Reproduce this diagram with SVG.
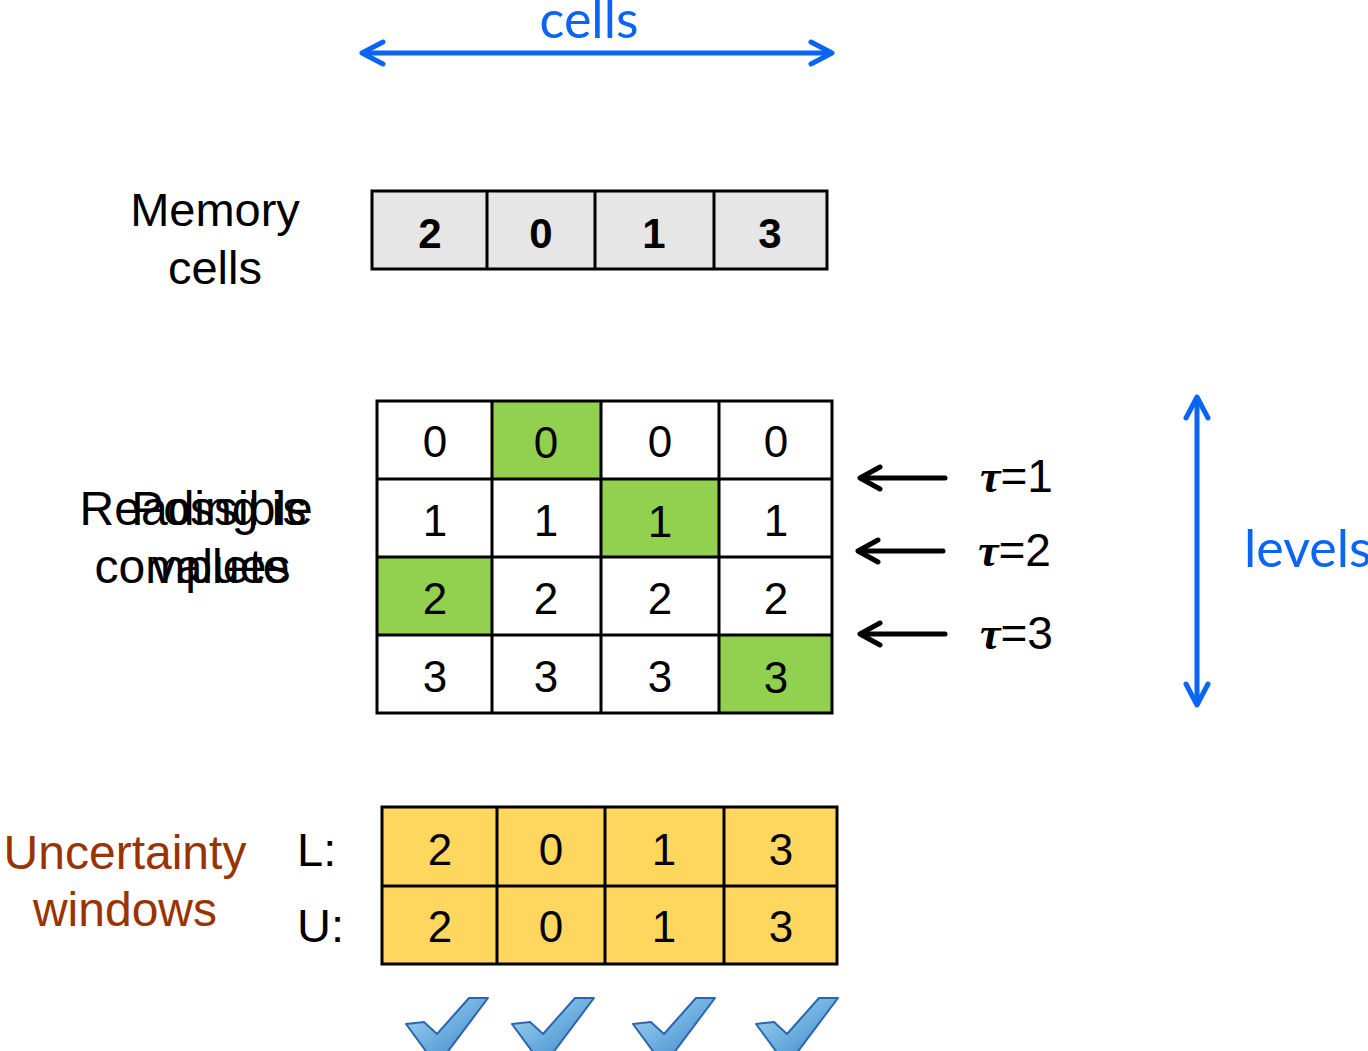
<svg xmlns="http://www.w3.org/2000/svg" width="1368" height="1051" viewBox="0 0 1368 1051">
<style>
.lbl{font-family:"Liberation Sans",Arial,sans-serif;font-size:47px;fill:#000}
.num{font-family:"Liberation Sans",Arial,sans-serif;font-size:44px;fill:#000;text-anchor:middle}
.bnum{font-family:"Liberation Sans",Arial,sans-serif;font-size:42px;font-weight:bold;fill:#000;text-anchor:middle}
.blue{font-family:Lato,"Open Sans",sans-serif;font-size:52px;fill:#0a64f5}
.grid{stroke:#000;stroke-width:3}
.tau{font-family:"Liberation Serif","Times New Roman",serif;font-style:italic;font-weight:bold}
.ba{stroke:#0a64f5;stroke-width:5;fill:none;stroke-linecap:round;stroke-linejoin:round}
.ka{stroke:#000;stroke-width:5;fill:none;stroke-linecap:round;stroke-linejoin:round}
.chk{fill:url(#cg);stroke:#2a66ad;stroke-width:2;stroke-linejoin:round}
</style>
<defs>
<linearGradient id="cg" x1="0" y1="0" x2="1" y2="1">
<stop offset="0" stop-color="#a9d8f2"/>
<stop offset="0.5" stop-color="#6fb0e0"/>
<stop offset="1" stop-color="#3a7cc4"/>
</linearGradient>
</defs>
<rect width="1368" height="1051" fill="#fff"/>

<g id="cells-axis">
<text class="blue" x="589" y="38" text-anchor="middle">cells</text>
</g>
<g id="levels-axis">
<text class="blue" x="1244" y="567">levels</text>
</g>

<g id="memory-label">
<text class="lbl" x="215" y="226" text-anchor="middle">Memory</text>
<text class="lbl" x="215" y="284" text-anchor="middle">cells</text>
</g>

<g id="memory-cells">
<rect x="372" y="191" width="455" height="78" fill="#e6e6e6" class="grid"/>
<line class="grid" x1="487" y1="191" x2="487" y2="269"/>
<line class="grid" x1="595" y1="191" x2="595" y2="269"/>
<line class="grid" x1="714" y1="191" x2="714" y2="269"/>
<text class="bnum" x="430" y="248">2</text>
<text class="bnum" x="541" y="248">0</text>
<text class="bnum" x="654" y="248">1</text>
<text class="bnum" x="770" y="248">3</text>
</g>

<g id="reading-label">
<text class="lbl" x="193" y="525" text-anchor="middle" style="font-size:48px">Reading is</text>
<text class="lbl" x="192" y="583" text-anchor="middle" style="font-size:48px">complete</text>
<text class="lbl" x="222" y="525" text-anchor="middle" style="font-size:48px">Possible</text>
<text class="lbl" x="221" y="583" text-anchor="middle" style="font-size:48px">values</text>
</g>

<g id="levels-grid">
<rect x="377" y="401" width="455" height="312" fill="#fff"/>
<rect x="492" y="401" width="109" height="78" fill="#92d050"/>
<rect x="601" y="479" width="118" height="78" fill="#92d050"/>
<rect x="377" y="557" width="115" height="78" fill="#92d050"/>
<rect x="719" y="635" width="113" height="78" fill="#92d050"/>
<rect x="377" y="401" width="455" height="312" fill="none" class="grid"/>
<line class="grid" x1="377" y1="479" x2="832" y2="479"/>
<line class="grid" x1="377" y1="557" x2="832" y2="557"/>
<line class="grid" x1="377" y1="635" x2="832" y2="635"/>
<line class="grid" x1="492" y1="401" x2="492" y2="713"/>
<line class="grid" x1="601" y1="401" x2="601" y2="713"/>
<line class="grid" x1="719" y1="401" x2="719" y2="713"/>
<text class="num" x="435" y="457">0</text><text class="num" x="546" y="458">0</text><text class="num" x="660" y="457">0</text><text class="num" x="776" y="457">0</text>
<text class="num" x="435" y="536">1</text><text class="num" x="546" y="536">1</text><text class="num" x="660" y="537">1</text><text class="num" x="776" y="536">1</text>
<text class="num" x="435" y="614">2</text><text class="num" x="546" y="614">2</text><text class="num" x="660" y="614">2</text><text class="num" x="776" y="614">2</text>
<text class="num" x="435" y="692">3</text><text class="num" x="546" y="692">3</text><text class="num" x="660" y="692">3</text><text class="num" x="776" y="693">3</text>
</g>

<g id="tau1"><text class="lbl" x="980" y="492" style="font-size:46px"><tspan class="tau">τ</tspan>=1</text></g>
<g id="tau2"><text class="lbl" x="978" y="566" style="font-size:46px"><tspan class="tau">τ</tspan>=2</text></g>
<g id="tau3"><text class="lbl" x="980" y="649" style="font-size:46px"><tspan class="tau">τ</tspan>=3</text></g>

<g id="uncertainty-label">
<text class="lbl" x="125" y="869" text-anchor="middle" style="fill:#993300;font-size:48px">Uncertainty</text>
<text class="lbl" x="125" y="926" text-anchor="middle" style="fill:#993300;font-size:48px">windows</text>
<text class="lbl" x="297" y="866">L:</text>
<text class="lbl" x="297" y="942">U:</text>
</g>

<g id="uncertainty-grid">
<rect x="382" y="807" width="455" height="157" fill="#ffd75e" class="grid"/>
<line class="grid" x1="382" y1="886" x2="837" y2="886"/>
<line class="grid" x1="497" y1="807" x2="497" y2="964"/>
<line class="grid" x1="605" y1="807" x2="605" y2="964"/>
<line class="grid" x1="724" y1="807" x2="724" y2="964"/>
<text class="num" x="440" y="865">2</text><text class="num" x="551" y="865">0</text><text class="num" x="664" y="865">1</text><text class="num" x="781" y="865">3</text>
<text class="num" x="440" y="942">2</text><text class="num" x="551" y="942">0</text><text class="num" x="664" y="942">1</text><text class="num" x="781" y="942">3</text>
</g>

<g id="checks">
<polygon class="chk" points="406,1024 424,1022 437,1034 469,998 488,998 443,1058 431,1058"/>
<polygon class="chk" transform="translate(106,0)" points="406,1024 424,1022 437,1034 469,998 488,998 443,1058 431,1058"/>
<polygon class="chk" transform="translate(227,0)" points="406,1024 424,1022 437,1034 469,998 488,998 443,1058 431,1058"/>
<polygon class="chk" transform="translate(350,0)" points="406,1024 424,1022 437,1034 469,998 488,998 443,1058 431,1058"/>
</g>

<g id="connectors">
<line class="ba" x1="364" y1="53" x2="830" y2="53"/>
<polyline class="ba" points="383,42 362,53 383,64"/>
<polyline class="ba" points="811,42 832,53 811,64"/>
<line class="ba" x1="1197" y1="399" x2="1197" y2="703"/>
<polyline class="ba" points="1186,418 1197,397 1208,418"/>
<polyline class="ba" points="1186,684 1197,705 1208,684"/>
<line class="ka" x1="861" y1="478" x2="945" y2="478"/>
<polyline class="ka" points="880,467 860,478 880,489"/>
<line class="ka" x1="859" y1="551" x2="943" y2="551"/>
<polyline class="ka" points="878,540 858,551 878,562"/>
<line class="ka" x1="861" y1="634" x2="945" y2="634"/>
<polyline class="ka" points="880,623 860,634 880,645"/>
</g>
</svg>
